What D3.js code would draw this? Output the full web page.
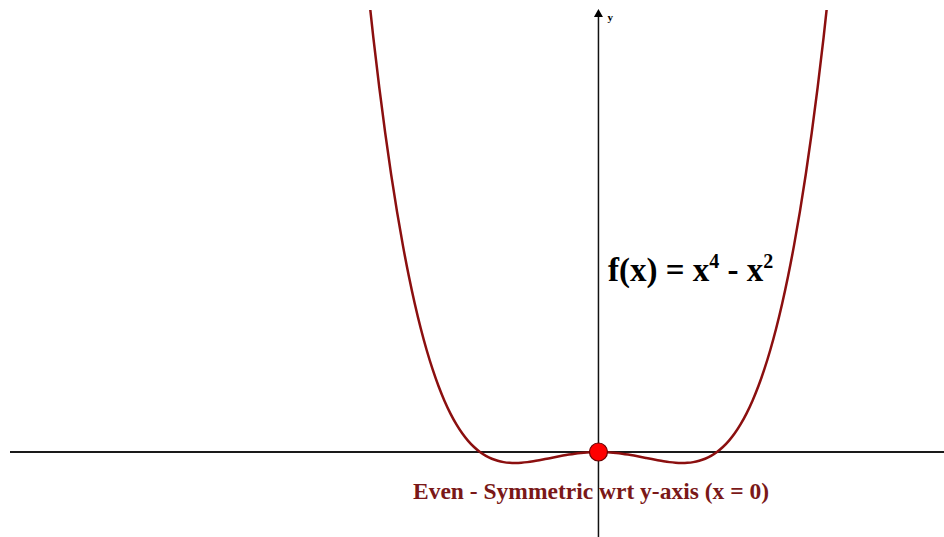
<!DOCTYPE html>
<html>
<head>
<meta charset="utf-8">
<script src="https://cdn.jsdelivr.net/npm/d3@7"></script>
<style>
  html, body { margin: 0; padding: 0; background: #fff; }
  svg { display: block; }
</style>
</head>
<body>
<svg id="chart" width="944" height="537"></svg>
<script>
// Sample points of f(x) = x^4 - x^2 (right half; the curve is even)
const xHalf = [0, 0.05, 0.10, 0.15, 0.20, 0.25, 0.30, 0.35, 0.40, 0.45, 0.50, 0.55,
  0.60, 0.65, 0.70, 0.75, 0.80, 0.85, 0.90, 0.95, 1.00, 1.05, 1.10, 1.15, 1.20,
  1.25, 1.30, 1.35, 1.40, 1.45, 1.50, 1.55, 1.60, 1.65, 1.70, 1.75, 1.80, 1.85,
  1.90, 1.95, 2.00];
const yHalf = [0, -0.0025, -0.0099, -0.0220, -0.0384, -0.0586, -0.0819, -0.1075,
  -0.1344, -0.1615, -0.1875, -0.2110, -0.2304, -0.2440, -0.2499, -0.2461, -0.2304,
  -0.2005, -0.1539, -0.0880, 0, 0.1130, 0.2541, 0.4265, 0.6336, 0.8789, 1.1661,
  1.4990, 1.8816, 2.3180, 2.8125, 3.3695, 3.9936, 4.6895, 5.4621, 6.3164, 7.2576,
  8.2910, 9.4221, 10.6565, 12.0];

// Highlighted point on the axis of symmetry
const markX = [0];
const markY = [0];

const titleText = "f(x) = x";
const caption = "Even - Symmetric wrt y-axis (x = 0)";

// Full curve built from the mirrored half
const points = [];
for (let i = xHalf.length - 1; i > 0; i--) points.push([-xHalf[i], yHalf[i]]);
for (let i = 0; i < xHalf.length; i++) points.push([xHalf[i], yHalf[i]]);

const W = 944, H = 537;
const svg = d3.select("#chart");

const x = d3.scaleLinear().domain([-4.966, 2.916]).range([10, 944]);
const y = d3.scaleLinear().domain([-1.932, 10.045]).range([537, 10]);

svg.append("defs").append("clipPath").attr("id", "plotClip")
  .append("rect").attr("x", 0).attr("y", y(10.045)).attr("width", W).attr("height", H);

// x-axis
svg.append("line")
  .attr("x1", x(-4.966)).attr("x2", W)
  .attr("y1", y(0)).attr("y2", y(0))
  .attr("stroke", "#1a1a1a").attr("stroke-width", 2);

// y-axis with arrow
svg.append("line")
  .attr("x1", x(0)).attr("x2", x(0))
  .attr("y1", H).attr("y2", y(10.045) + 6)
  .attr("stroke", "#111").attr("stroke-width", 1.5);
svg.append("path")
  .attr("d", `M${x(0)},${y(10.045) - 1} l-4.5,8 l9,0 Z`)
  .attr("fill", "#000");
svg.append("text")
  .attr("x", x(0) + 9).attr("y", y(10.045) + 11)
  .attr("font-family", "Liberation Serif, serif")
  .attr("font-weight", "bold")
  .attr("font-size", 11)
  .attr("fill", "#000")
  .text("y");

// curve
const line = d3.line()
  .x(d => x(d[0])).y(d => y(d[1]))
  .curve(d3.curveCatmullRom.alpha(0.5));
svg.append("path")
  .datum(points)
  .attr("clip-path", "url(#plotClip)")
  .attr("d", line)
  .attr("fill", "none")
  .attr("stroke", "#8b0f0f")
  .attr("stroke-width", 2.5);

// marked point
svg.selectAll("circle.mark")
  .data(markX.map((v, i) => [v, markY[i]]))
  .enter().append("circle")
  .attr("class", "mark")
  .attr("cx", d => x(d[0])).attr("cy", d => y(d[1]))
  .attr("r", 9)
  .attr("fill", "#ff0000")
  .attr("stroke", "#6a0000")
  .attr("stroke-width", 1.2);

// function label
const t = svg.append("text")
  .attr("x", 608).attr("y", 281)
  .attr("font-family", "Liberation Serif, Times New Roman, serif")
  .attr("font-weight", "bold")
  .attr("font-size", 33)
  .attr("fill", "#000");
t.append("tspan").text(titleText);
t.append("tspan").attr("dy", -13).attr("font-size", 20).text("4");
t.append("tspan").attr("dy", 13).text(" - x");
t.append("tspan").attr("dy", -13).attr("font-size", 20).text("2");

// caption
svg.append("text")
  .attr("x", 413).attr("y", 499)
  .attr("font-family", "Liberation Serif, Times New Roman, serif")
  .attr("font-weight", "bold")
  .attr("font-size", 23.5)
  .attr("fill", "#7a1818")
  .text(caption);
</script>
</body>
</html>
